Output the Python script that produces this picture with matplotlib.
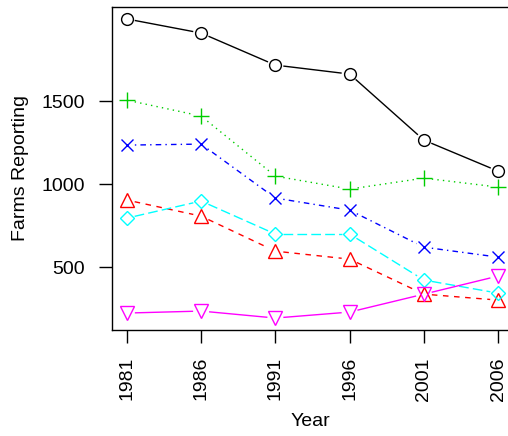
import numpy as np
import matplotlib
matplotlib.use("Agg")
import matplotlib.pyplot as plt

years = [1981, 1986, 1991, 1996, 2001, 2006]
s_black = [1995, 1910, 1717, 1663, 1265, 1078]
s_red = [904, 807, 596, 548, 337, 301]
s_green = [1506, 1410, 1048, 970, 1036, 982]
s_blue = [1235, 1241, 916, 843, 620, 560]
s_cyan = [795, 898, 699, 699, 422, 343]
s_magenta = [223, 235, 193, 229, 337, 446]
yticks = [500, 1000, 1500]

series = [
    (s_black, "#000000", "o", 8.5, (None,)),
    (s_red, "#FF0000", "^", 10, (4, 4)),
    (s_green, "#00CD00", "+", 12, (1, 3)),
    (s_blue, "#0000FF", "x", 8, (1, 3, 4, 3)),
    (s_cyan, "#00FFFF", "D", 7.5, (7, 3)),
    (s_magenta, "#FF00FF", "v", 10, (None,)),
]

plt.rcParams['font.family'] = ['Liberation Sans', 'DejaVu Sans']
W, H = 508, 436
fig = plt.figure(figsize=(W / 100, H / 100), dpi=100)
ax = fig.add_axes([112 / W, (H - 330) / H, (513 - 112) / W, (330 - 7) / H])

allv = np.concatenate([s_black, s_red, s_green, s_blue, s_cyan, s_magenta])
ymin, ymax = allv.min(), allv.max()
r = ymax - ymin
ax.set_xlim(years[0] - 0.04 * (years[-1] - years[0]), years[-1] + 0.04 * (years[-1] - years[0]))
ax.set_ylim(ymin - 0.04 * r, ymax + 0.04 * r)

fig.canvas.draw()
trans = ax.transData
inv = trans.inverted()
gap = 8.0
for vals, col, mk, ms, dash in series:
    pts = trans.transform(np.column_stack([years, vals]))
    for i in range(len(pts) - 1):
        p0, p1 = pts[i], pts[i + 1]
        d = p1 - p0
        L = np.hypot(*d)
        if L <= 2 * gap:
            continue
        u = d / L
        a = inv.transform(p0 + u * gap)
        b = inv.transform(p1 - u * gap)
        ln, = ax.plot([a[0], b[0]], [a[1], b[1]], color=col, lw=1.0,
                      solid_capstyle='butt', dash_capstyle='butt')
        if dash[0] is not None:
            ln.set_dashes(dash)
    ax.plot(years, vals, linestyle='none', marker=mk, markersize=ms,
            markerfacecolor='none', markeredgecolor=col, markeredgewidth=1.0)

ax.set_xticks(years)
ax.set_xticklabels([str(y) for y in years], rotation=90)
ax.set_yticks(yticks)
ax.set_yticklabels([str(v) for v in yticks])
ax.tick_params(axis='both', length=9.5, width=1.0, pad=10, labelsize=14, colors='black')
for sp in ax.spines.values():
    sp.set_linewidth(1.0)
ax.spines['right'].set_visible(False)

fig.text(21 / W, 1 - 168 / H, "Farms Reporting", rotation=90, ha='center', va='center', fontsize=14)
fig.text(310 / W, 1 - 421 / H, "Year", ha='center', va='center', fontsize=14)

fig.savefig("out.png", dpi=100, facecolor='white')
